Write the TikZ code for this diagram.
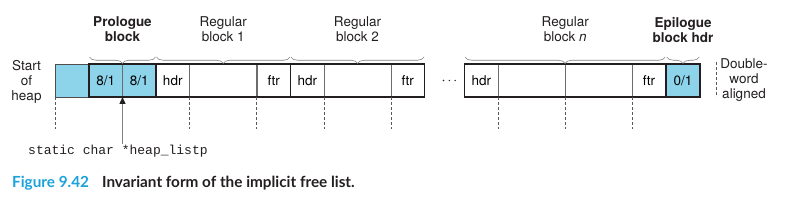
\documentclass[tikz,border=0pt]{standalone}
\usepackage{fontspec}
\setmainfont{TeX Gyre Heros}
\newfontfamily\codefont{Liberation Mono}
\newfontfamily\capfont{Lato}
\usetikzlibrary{arrows.meta,decorations.pathreplacing}
\definecolor{cellblue}{HTML}{8DD3E9}
\definecolor{capblue}{HTML}{1BA2DB}
\definecolor{ink}{HTML}{231F20}
\tikzset{
  cell/.style={draw=gray!85!black, line width=0.6pt, minimum height=33pt, minimum width=33.5pt,
    inner sep=0pt, outer sep=0pt, text height=9.7pt, text depth=0pt, anchor=center},
  wide/.style={cell, minimum width=67pt},
  blue/.style={fill=cellblue},
  blk/.style={draw=ink, line width=1.5pt},
  guide/.style={draw=gray!70!black, dash pattern=on 3pt off 2pt, line width=0.7pt},
  brc/.style={decorate, decoration={brace, mirror, amplitude=6.5pt}, draw=gray, line width=0.6pt},
  lab/.style={align=center, inner sep=0pt, text=ink}
}
\begin{document}
\begin{tikzpicture}[x=1pt, y=-1pt, font=\fontsize{13.5}{15}\selectfont]
\useasboundingbox (0,0) rectangle (800,213);
% cells
\node[cell, blue, draw=ink!80, line width=0.8pt] (pad) at (72.3,80.5) {};
\node[cell, blue] (p1) at (105.75,80.5) {8/1};
\node[cell, blue] (p2) at (139.25,80.5) {8/1};
\node[cell] (b1h) at (172.75,80.5) {hdr};
\node[wide] (b1e) at (223.25,80.5) {};
\node[cell] (b1f) at (273.75,80.5) {ftr};
\node[cell] (b2h) at (307.25,80.5) {hdr};
\node[wide] (b2e) at (357.5,80.5) {};
\node[cell] (b2f) at (407.75,80.5) {ftr};
\node[cell] (bnh) at (481.25,80.5) {hdr};
\node[wide] (bne1) at (531.5,80.5) {};
\node[wide] (bne2) at (598.5,80.5) {};
\node[cell] (bnf) at (649,80.5) {ftr};
\node[cell, blue] (ep) at (683,80.5) {0/1};
% block outlines
\draw[blk] (p1.north west) rectangle (p2.south east);
\draw[blk] (b1h.north west) rectangle (b1f.south east);
\draw[blk] (b2h.north west) rectangle (b2f.south east);
\draw[blk] (bnh.north west) rectangle (bnf.south east);
\draw[blk] (ep.north west) rectangle (ep.south east);
% dots
\fill[ink] (443.5,80.5) circle (0.8);
\fill[ink] (449.3,80.5) circle (0.8);
\fill[ink] (455.1,80.5) circle (0.8);
% guides
\draw[guide] (pad.south west) -- ++(0,32);
\draw[guide] (b1h.south east) -- ++(0,32);
\draw[guide] (b1e.south east) -- ++(0,32);
\draw[guide] (b2h.south east) -- ++(0,32);
\draw[guide] (b2e.south east) -- ++(0,32);
\draw[guide] (bnh.south east) -- ++(0,32);
\draw[guide] (bne1.south east) -- ++(0,32);
\draw[guide] (bne2.south east) -- ++(0,32);
\draw[guide] (716.7,62) -- (716.7,97);
% braces
\draw[brc] ([xshift=0.5pt,yshift=7pt]p1.north west) -- ([xshift=-0.5pt,yshift=7pt]p2.north east);
\draw[brc] ([xshift=0.5pt,yshift=7pt]b1h.north west) -- ([xshift=-0.5pt,yshift=7pt]b1f.north east);
\draw[brc] ([xshift=0.5pt,yshift=7pt]b2h.north west) -- ([xshift=-0.5pt,yshift=7pt]b2f.north east);
\draw[brc] ([xshift=0.5pt,yshift=7pt]bnh.north west) -- ([xshift=-0.5pt,yshift=7pt]bnf.north east);
\draw[brc] ([xshift=0.5pt,yshift=7pt]ep.north west) -- ([xshift=-0.5pt,yshift=7pt]ep.north east);
% labels
\node[lab] (start) at (26.5,81.5) {Start\\of\\heap};
\node[lab, font=\fontsize{13.5}{15}\selectfont\bfseries] (prol) at (122.5,29.6) {Prologue\\block};
\node[lab] (reg1) at (223.25,29.6) {Regular\\block 1};
\node[lab] (reg2) at (357.5,29.6) {Regular\\block 2};
\node[lab] (regn) at (565.25,29.6) {Regular\\block \textit{n}};
\node[lab, font=\fontsize{13.5}{15}\selectfont\bfseries] (epil) at (683,29.6) {Epilogue\\block hdr};
\node[lab] (dw) at (744,80.5) {Double-\\word\\aligned};
% pointer
\node[anchor=base west, inner sep=0pt, text=ink, font=\codefont\fontsize{13}{15}\selectfont] (ptr) at (28,155) {static char *heap\_listp};
\coordinate (ptrtop) at (122.5,144);
\draw[gray, line width=1.3pt, -{Triangle[width=6pt,length=7pt,color=ink]}] (ptrtop) -- (p1.south east);
% caption
\node[anchor=base west, inner sep=0pt, text=ink, font=\capfont\bfseries\fontsize{15.3}{18}\selectfont] (cap) at (12,188)
  {{\color{capblue}Figure 9.42}\hspace{13pt}Invariant form of the implicit free list.};
\end{tikzpicture}
\end{document}
